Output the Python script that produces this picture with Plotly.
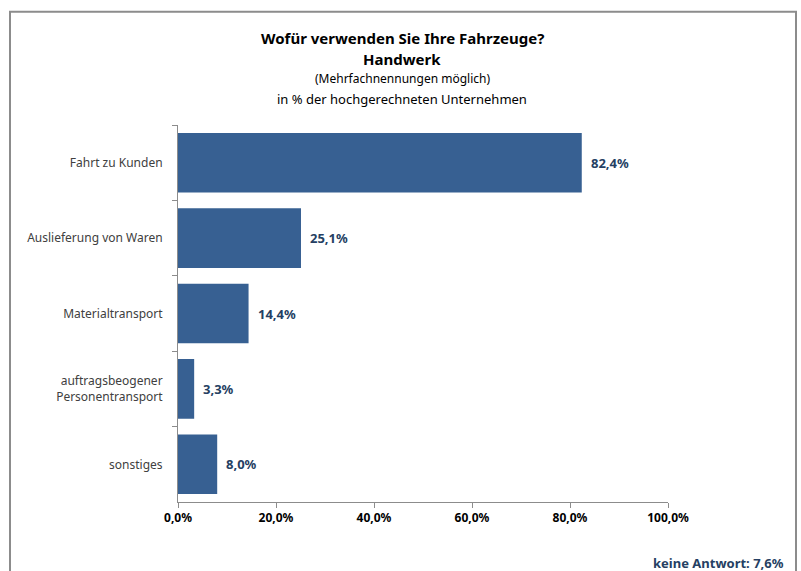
import plotly.graph_objects as go

categories = ["Fahrt zu Kunden", "Auslieferung von Waren", "Materialtransport",
              "auftragsbeogener<br>Personentransport", "sonstiges"]
values = [82.4, 25.1, 14.4, 3.3, 8.0]
value_labels = ["82,4%", "25,1%", "14,4%", "3,3%", "8,0%"]
tick_values = [0, 20, 40, 60, 80, 100]
tick_labels = ["0,0%", "20,0%", "40,0%", "60,0%", "80,0%", "100,0%"]
no_answer = "keine Antwort: 7,6%"

W, H = 801, 571
L, R, T, B = 178, 668, 124.5, 502
pw, ph = R - L, B - T

def px(x):
    return (x - L) / pw

def py(y):
    return (B - y) / ph

FONT = "Noto Sans"
BAR = "#376092"
LABEL = "#253F63"

fig = go.Figure()
fig.add_trace(go.Bar(
    x=values, y=categories, orientation="h",
    marker=dict(color=BAR, line=dict(width=0)),
    width=0.79, hoverinfo="skip",
))

annotations = []
for c, v, t in zip(categories, values, value_labels):
    annotations.append(dict(x=v, y=c, xref="x", yref="y", text="<b>%s</b>" % t,
                            showarrow=False, xanchor="left", yanchor="middle",
                            xshift=7, font=dict(family=FONT, size=13, color=LABEL)))

titles = [
    ("<b>Wofür verwenden Sie Ihre Fahrzeuge?</b>", 37, 15),
    ("<b>Handwerk</b>", 58, 15),
    ("(Mehrfachnennungen möglich)", 78, 12),
    ("in % der hochgerechneten Unternehmen", 98, 13),
]
for txt, yy, sz in titles:
    annotations.append(dict(x=px(402), y=py(yy), xref="paper", yref="paper", text=txt,
                            showarrow=False, xanchor="center", yanchor="middle",
                            font=dict(family=FONT, size=sz, color="#000000")))

annotations.append(dict(x=px(786), y=py(563), xref="paper", yref="paper",
                        text="<b>%s</b>" % no_answer, showarrow=False,
                        xanchor="right", yanchor="middle",
                        font=dict(family=FONT, size=13, color=LABEL)))

fig.update_layout(
    width=W, height=H, autosize=False,
    margin=dict(l=L, r=W - R, t=T, b=H - B, pad=0),
    paper_bgcolor="white", plot_bgcolor="white",
    showlegend=False, bargap=0.21,
    annotations=annotations,
    shapes=[dict(type="rect", xref="paper", yref="paper",
                 x0=px(10), x1=px(796), y0=py(590), y1=py(11),
                 line=dict(color="#8C8C8C", width=2), layer="below")],
    xaxis=dict(range=[0, 100], tickvals=tick_values, ticktext=tick_labels,
               showgrid=False, zeroline=False, showline=True, linecolor="#8C8C8C",
               linewidth=1, ticks="outside", ticklen=5, tickcolor="#8C8C8C",
               tickfont=dict(family=FONT, size=12, color="#000000", weight="bold"),
               fixedrange=True),
    yaxis=dict(autorange="reversed", showgrid=False, zeroline=False, showline=True,
               linecolor="#8C8C8C", linewidth=1, ticks="outside", ticklen=5,
               tickcolor="#8C8C8C", tickson="boundaries", ticklabelstandoff=12,
               tickfont=dict(family=FONT, size=12, color="#404040"),
               fixedrange=True),
)

fig.write_html("out.html", config={"displayModeBar": False})
